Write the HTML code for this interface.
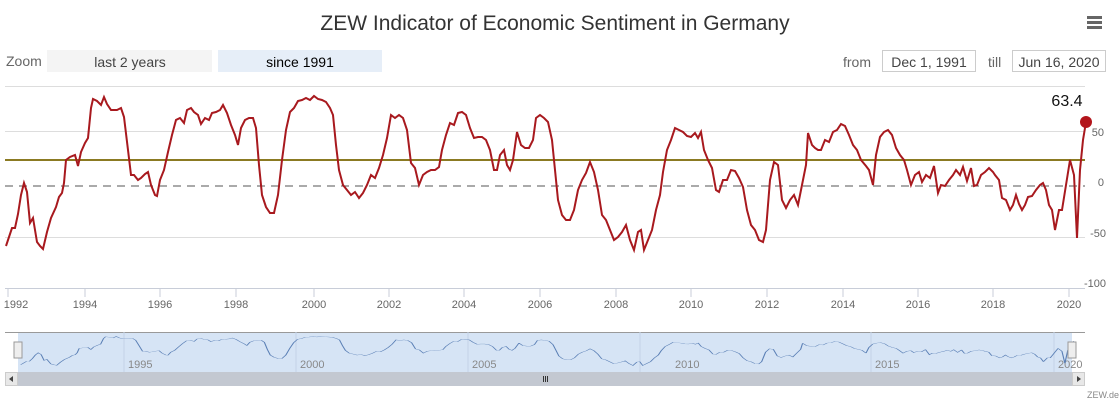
<!DOCTYPE html>
<html><head><meta charset="utf-8"><style>
body{margin:0;background:#fff;}
svg{display:block;font-family:"Liberation Sans",sans-serif;}
</style></head><body>
<svg width="1119" height="406" viewBox="0 0 1119 406">
<text x="555" y="30" text-anchor="middle" font-size="21" fill="#333">ZEW Indicator of Economic Sentiment in Germany</text>
<g fill="#666"><rect x="1087" y="16" width="15" height="3"/><rect x="1087" y="21" width="15" height="3"/><rect x="1087" y="26" width="15" height="3"/></g>
<text x="6" y="66" font-size="14" fill="#666">Zoom</text>
<rect x="47" y="50" width="165" height="22" fill="#f4f4f4"/>
<text x="130" y="67" text-anchor="middle" font-size="14" fill="#444">last 2 years</text>
<rect x="218" y="50" width="164" height="22" fill="#e6eef8"/>
<text x="300" y="67" text-anchor="middle" font-size="14" fill="#000">since 1991</text>
<text x="843" y="67" font-size="14" fill="#666">from</text>
<rect x="882.5" y="50.5" width="93" height="21" fill="#fff" stroke="#ccc"/>
<text x="929" y="67" text-anchor="middle" font-size="14" fill="#444">Dec 1, 1991</text>
<text x="988" y="67" font-size="14" fill="#666">till</text>
<rect x="1012.5" y="50.5" width="93" height="21" fill="#fff" stroke="#ccc"/>
<text x="1059" y="67" text-anchor="middle" font-size="14" fill="#444">Jun 16, 2020</text>
<g stroke="#ddd" stroke-width="1">
<line x1="5" y1="86.5" x2="1085" y2="86.5"/>
<line x1="5" y1="131.5" x2="1085" y2="131.5"/>
<line x1="5" y1="237.5" x2="1085" y2="237.5"/>
</g>
<line x1="5" y1="186" x2="1085" y2="186" stroke="#555" stroke-dasharray="8,6"/>
<line x1="5" y1="160" x2="1085" y2="160" stroke="#8b7a22" stroke-width="2"/>
<line x1="5" y1="288.5" x2="1085" y2="288.5" stroke="#c8cdd8"/>
<g stroke="#c8cdd8"><line x1="8" y1="288" x2="8" y2="297"/><line x1="85" y1="288" x2="85" y2="297"/><line x1="160" y1="288" x2="160" y2="297"/><line x1="236" y1="288" x2="236" y2="297"/><line x1="314" y1="288" x2="314" y2="297"/><line x1="389" y1="288" x2="389" y2="297"/><line x1="464" y1="288" x2="464" y2="297"/><line x1="540" y1="288" x2="540" y2="297"/><line x1="616" y1="288" x2="616" y2="297"/><line x1="691" y1="288" x2="691" y2="297"/><line x1="767" y1="288" x2="767" y2="297"/><line x1="843" y1="288" x2="843" y2="297"/><line x1="918" y1="288" x2="918" y2="297"/><line x1="993" y1="288" x2="993" y2="297"/><line x1="1069" y1="288" x2="1069" y2="297"/></g>
<g font-size="11" fill="#666" text-anchor="middle">
<text x="16" y="308">1992</text><text x="85" y="308">1994</text><text x="160" y="308">1996</text><text x="236" y="308">1998</text><text x="314" y="308">2000</text><text x="389" y="308">2002</text><text x="464" y="308">2004</text><text x="540" y="308">2006</text><text x="616" y="308">2008</text><text x="691" y="308">2010</text><text x="767" y="308">2012</text><text x="843" y="308">2014</text><text x="918" y="308">2016</text><text x="993" y="308">2018</text><text x="1069" y="308">2020</text>
</g>
<g font-size="11" fill="#666" text-anchor="end">
<text x="1104" y="136">50</text><text x="1104" y="186">0</text><text x="1106" y="237">-50</text><text x="1106" y="287">-100</text>
</g>
<defs>
<polyline id="s" fill="none" points="6,246 9,237 12,228 15,228 18,214 21,195 24,183 27,192 30,223 33,218 37,242 40,246 43,249 47,232 51,218 56,207 59,197 62,193 64,183 66,160 70,157 75,155 78,166 81,152 85,143 88,138 91,108 93,99 97,101 101,105 104,97 107,104 111,110 117,110 121,108 124,117 128,150 131,175 134,175 138,180 141,178 145,174 148,172 151,185 155,195 157,196 160,180 164,170 168,152 172,135 176,120 180,118 184,123 187,110 191,108 194,112 198,115 201,124 205,118 209,120 212,113 216,112 220,110 223,105 227,113 231,125 235,135 238,145 241,128 245,120 249,118 253,118 256,128 259,165 262,195 266,207 270,213 274,213 278,195 282,160 286,130 290,112 294,108 298,101 302,100 306,98 310,100 314,96 318,99 322,100 326,102 330,108 333,115 336,145 339,170 343,185 347,190 351,195 355,192 359,198 363,193 367,185 371,175 375,178 379,168 383,155 387,138 391,115 395,118 399,115 403,118 407,130 411,163 415,168 419,185 423,175 427,172 431,170 435,170 439,167 442,150 446,135 450,123 454,125 458,113 462,112 466,115 470,128 474,138 478,137 482,137 486,140 490,150 494,170 497,170 500,155 504,150 507,165 510,170 513,160 517,132 521,145 525,148 529,148 533,140 536,118 540,115 544,118 548,122 552,140 555,170 558,200 562,215 566,220 570,220 574,210 578,190 582,180 586,173 590,162 594,172 598,190 602,215 606,220 610,230 614,240 618,237 622,232 626,225 630,240 634,250 638,232 641,230 644,250 648,240 652,230 656,210 660,195 663,172 667,150 671,140 675,128 679,130 683,132 687,136 691,137 695,133 698,138 701,132 704,150 708,160 712,168 716,190 719,192 723,180 727,180 731,170 735,171 739,178 743,187 747,210 751,225 755,230 759,240 763,242 766,230 770,180 774,162 778,165 782,200 786,208 790,200 794,195 798,205 802,185 806,165 808,133 812,145 815,148 818,150 821,150 825,140 829,142 833,132 837,130 841,124 845,126 849,135 853,145 857,150 861,160 866,166 869,170 873,185 876,155 880,137 884,132 888,130 892,135 896,148 900,155 904,160 907,170 911,185 915,175 919,172 922,182 926,175 930,178 934,166 938,193 941,185 945,186 949,180 953,175 956,170 960,175 963,167 967,181 971,168 974,186 977,185 981,175 985,172 989,168 993,172 995,175 999,180 1002,198 1006,200 1010,210 1013,205 1016,195 1019,204 1022,210 1025,205 1028,197 1032,196 1036,190 1040,185 1043,183 1046,190 1049,205 1052,210 1055,230 1059,210 1062,210 1066,185 1070,160 1074,175 1077,238 1080,170 1083,140 1086,122"/>
</defs>
<use href="#s" stroke="#a8191e" stroke-width="2"/>
<circle cx="1086" cy="122" r="6" fill="#b3151b"/>
<text x="1067" y="106" text-anchor="middle" font-size="16" fill="#111">63.4</text>
<rect x="18" y="332" width="1054" height="40" fill="#d6e4f5"/>
<line x1="5" y1="332.5" x2="1085" y2="332.5" stroke="#999"/>
<g stroke="#c4d2e6"><line x1="124" y1="332" x2="124" y2="372"/><line x1="296" y1="332" x2="296" y2="372"/><line x1="468" y1="332" x2="468" y2="372"/><line x1="640" y1="332" x2="640" y2="372"/><line x1="871" y1="332" x2="871" y2="372"/><line x1="1054" y1="332" x2="1054" y2="372"/></g>
<g font-size="11" fill="#888"><text x="128" y="368">1995</text><text x="300" y="368">2000</text><text x="472" y="368">2005</text><text x="675" y="368">2010</text><text x="875" y="368">2015</text><text x="1058" y="368">2020</text></g>
<g transform="translate(14.8,318) scale(0.975,0.19)"><use href="#s" stroke="#5a7fb5" stroke-width="1.2" vector-effect="non-scaling-stroke"/></g>
<rect x="14" y="342" width="8" height="16" fill="#eee" stroke="#999"/>
<rect x="1068" y="342" width="8" height="16" fill="#eee" stroke="#999"/>
<rect x="5" y="372" width="1080" height="14" fill="#c3c8d1"/>
<rect x="5.5" y="372.5" width="12" height="13" fill="#e8e8e8" stroke="#ccc"/>
<rect x="1072.5" y="372.5" width="12" height="13" fill="#e8e8e8" stroke="#ccc"/>
<path d="M13,376 L9,379 L13,382Z" fill="#444"/><path d="M1077,376 L1081,379 L1077,382Z" fill="#444"/>
<g stroke="#333"><line x1="543.5" y1="376" x2="543.5" y2="382"/><line x1="545.5" y1="376" x2="545.5" y2="382"/><line x1="547.5" y1="376" x2="547.5" y2="382"/></g>
<text x="1119" y="398" text-anchor="end" font-size="9" fill="#888">ZEW.de</text>
</svg>
</body></html>
